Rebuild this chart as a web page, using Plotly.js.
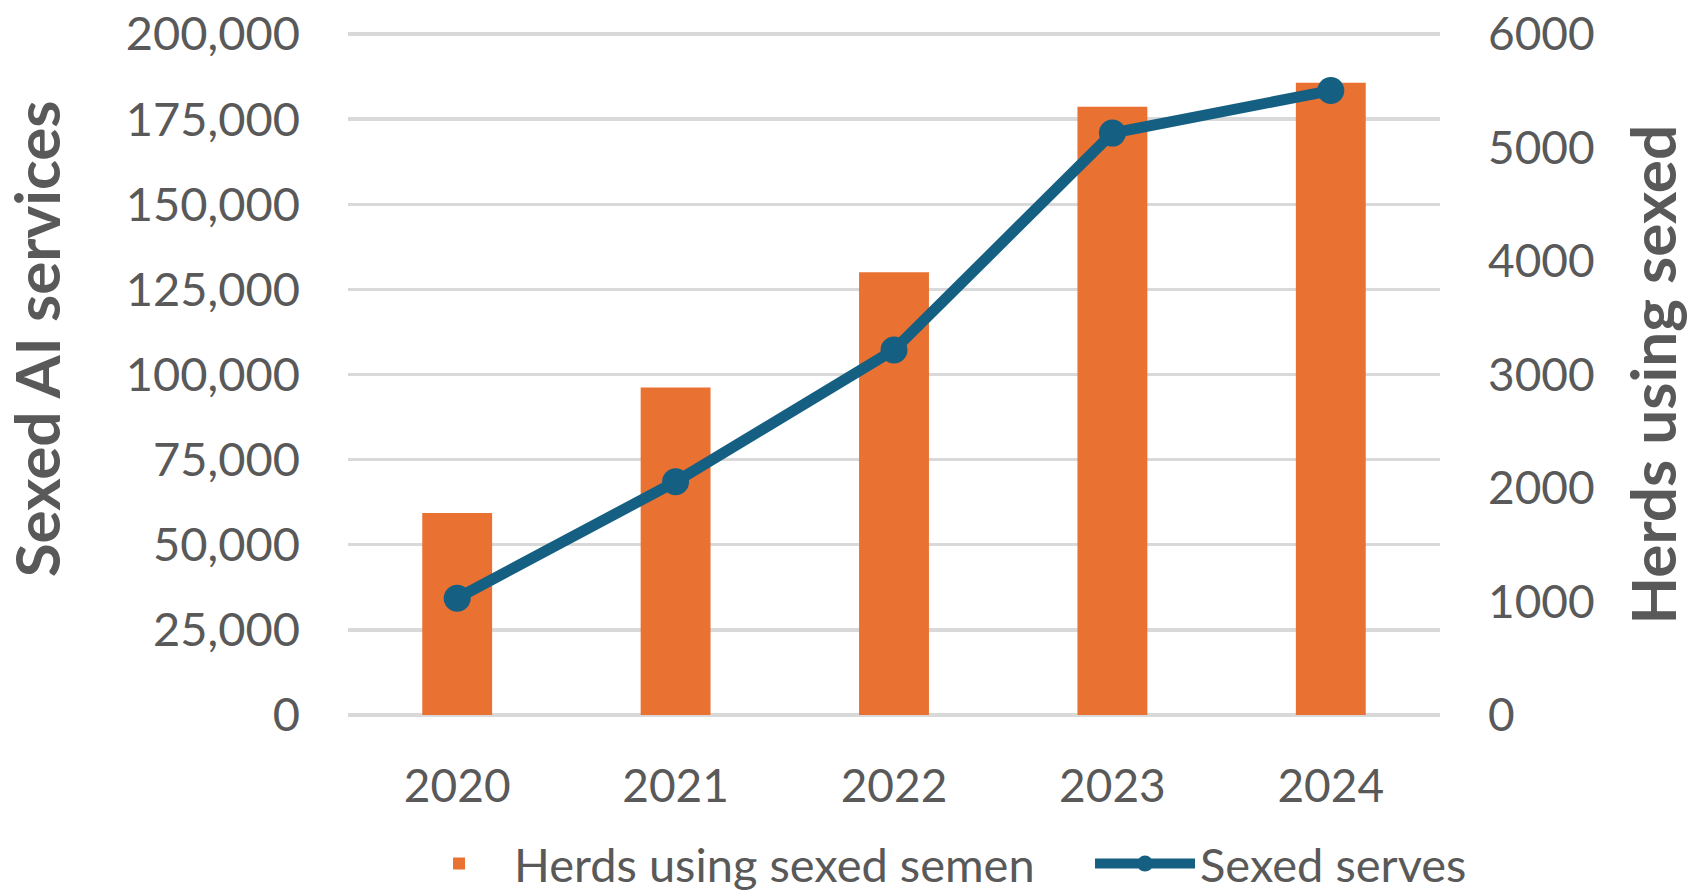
<!DOCTYPE html>
<html>
<head>
<meta charset="utf-8">
<script src="https://cdn.plot.ly/plotly-3.0.1.min.js"></script>
<style>
  html, body { margin: 0; padding: 0; background: #ffffff; }
  #chart { width: 1690px; height: 895px; }
</style>
</head>
<body>
<div id="chart"></div>
<script>
// Data
const years = ["2020", "2021", "2022", "2023", "2024"];
const herdsUsingSexedSemen = [1780, 2885, 3900, 5360, 5570];   // right axis (bars)
const sexedServes = [34300, 68500, 107200, 170900, 183400];    // left axis (line)

const leftTickVals = [0, 25000, 50000, 75000, 100000, 125000, 150000, 175000, 200000];
const rightTickVals = [0, 1000, 2000, 3000, 4000, 5000, 6000];

const leftTitle = "Sexed AI services";
const rightTitle = "Herds using sexed";
const barName = "Herds using sexed semen";
const lineName = "Sexed serves";

const grey = "#595959";
const fontFamily = "Lato, 'Open Sans', sans-serif";

const traces = [
  {
    type: "bar",
    name: barName,
    x: years,
    y: herdsUsingSexedSemen,
    yaxis: "y",
    legend: "legend",
    marker: { color: "#E97132" },
    hoverinfo: "skip"
  },
  {
    type: "scatter",
    mode: "lines+markers",
    name: lineName,
    x: years,
    y: sexedServes,
    yaxis: "y2",
    legend: "legend2",
    line: { color: "#156082", width: 11 },
    marker: { color: "#156082", size: 27 },
    hoverinfo: "skip"
  }
];

const legendCommon = {
  orientation: "h",
  xanchor: "left",
  y: -0.2147,
  yanchor: "middle",
  font: { family: fontFamily, size: 47, color: grey },
  itemwidth: 100,
  bgcolor: "rgba(0,0,0,0)",
  borderwidth: 0
};

const layout = {
  width: 1690,
  height: 895,
  margin: { l: 348, r: 250, t: 32, b: 178, autoexpand: false },
  paper_bgcolor: "#ffffff",
  plot_bgcolor: "#ffffff",
  font: { family: fontFamily, color: grey, size: 46 },
  bargap: 0.68,
  showlegend: true,
  legend: Object.assign({}, legendCommon, { x: 0.0513 }),
  legend2: Object.assign({}, legendCommon, { x: 0.6795 }),
  xaxis: {
    type: "category",
    showgrid: false,
    zeroline: false,
    showline: false,
    ticks: "",
    ticklabelstandoff: 38,
    tickfont: { family: fontFamily, size: 46, color: grey }
  },
  yaxis: {
    side: "right",
    range: [-18, 6018],
    tickvals: rightTickVals,
    tickformat: "d",
    showgrid: false,
    zeroline: false,
    showline: false,
    ticks: "",
    ticklabelstandoff: 47,
    tickfont: { family: fontFamily, size: 46, color: grey }
  },
  yaxis2: {
    overlaying: "y",
    side: "left",
    range: [-600, 200600],
    tickvals: leftTickVals,
    tickformat: ",d",
    showgrid: true,
    gridcolor: "#D9D9D9",
    gridwidth: 3.5,
    zeroline: false,
    showline: false,
    ticks: "",
    ticklabelstandoff: 47,
    tickfont: { family: fontFamily, size: 47, color: grey }
  },
  annotations: [
    {
      text: "<b>" + leftTitle + "</b>",
      xref: "paper", yref: "paper",
      x: -0.2862, y: 0.552,
      xanchor: "center", yanchor: "middle",
      textangle: -90,
      showarrow: false,
      font: { family: fontFamily, size: 62, color: grey }
    },
    {
      text: "<b>" + rightTitle + "</b>",
      xref: "paper", yref: "paper",
      x: 1.1941, y: 0.5,
      xanchor: "center", yanchor: "middle",
      textangle: -90,
      showarrow: false,
      font: { family: fontFamily, size: 62, color: grey }
    }
  ]
};

Plotly.newPlot("chart", traces, layout, { displayModeBar: false, staticPlot: true });
</script>
</body>
</html>
